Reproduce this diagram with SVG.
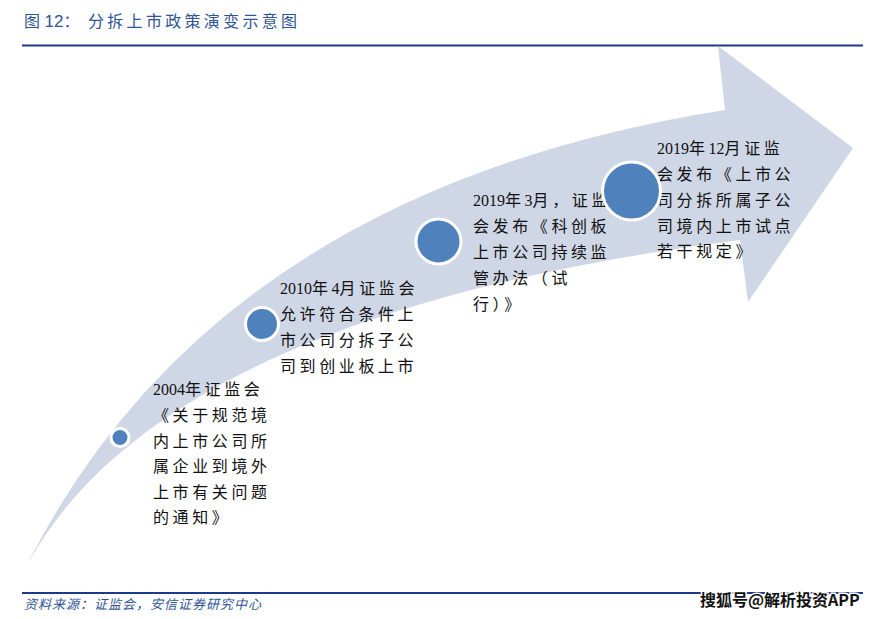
<svg xmlns="http://www.w3.org/2000/svg" width="884" height="619" viewBox="0 0 884 619">
<style>
.title{font-family:"Liberation Sans","Noto Sans CJK SC",sans-serif;font-size:16px;fill:#2F5496;}
.body{font-family:"Liberation Serif","Noto Sans CJK SC",serif;font-size:16px;fill:#111;letter-spacing:3.6px;}
.num{letter-spacing:0px;}
.src{font-family:"Noto Sans CJK SC",sans-serif;font-size:13px;fill:#2F5496;font-style:italic;letter-spacing:1px;}
.dot{fill:#4F81BD;stroke:#fff;stroke-width:3;}
.wm{font-family:"Noto Sans CJK SC",sans-serif;font-size:16px;font-weight:bold;fill:#111;stroke:#fff;stroke-width:3;paint-order:stroke;}
</style>
<rect width="884" height="619" fill="#fff"/>
<g id="header">
<text class="title" x="24" y="27">图 <tspan font-size="17">12</tspan>：<tspan x="88" letter-spacing="3.3">分拆上市政策演变示意图</tspan></text>
<line x1="22" y1="45.5" x2="863" y2="45.5" stroke="#1B3A8C" stroke-width="2"/>
</g>
<g id="arrow">
<path d="M30 559 Q220 190 725 110 L718 46 L853 148 L748 302 L740 240 C350 290 120 400 30 560 Z" fill="#CFD7E6"/>
</g>
<g id="connectors"></g>
<g id="node1">
<text class="body" x="153" y="395"><tspan class="num">2004</tspan>年证监会</text>
<text class="body" x="153" y="421">《关于规范境</text>
<text class="body" x="153" y="446.5">内上市公司所</text>
<text class="body" x="153" y="472">属企业到境外</text>
<text class="body" x="153" y="497.5">上市有关问题</text>
<text class="body" x="153" y="523">的通知》</text>
<circle class="dot" cx="120" cy="437.5" r="9"/>
</g>
<g id="node2">
<text class="body" x="280" y="294"><tspan class="num">2010</tspan>年<tspan class="num">4</tspan>月证监会</text>
<text class="body" x="280" y="320">允许符合条件上</text>
<text class="body" x="280" y="346">市公司分拆子公</text>
<text class="body" x="280" y="372">司到创业板上市</text>
<circle class="dot" cx="262" cy="324" r="16.5"/>
</g>
<g id="node3">
<text class="body" x="473" y="206"><tspan class="num">2019</tspan>年<tspan class="num">3</tspan>月，证监</text>
<text class="body" x="473" y="232">会发布《科创板</text>
<text class="body" x="473" y="258">上市公司持续监</text>
<text class="body" x="473" y="284">管办法（试</text>
<text class="body" x="473" y="310">行）》</text>
<circle class="dot" cx="438.5" cy="241.5" r="22.5"/>
</g>
<g id="node4">
<text class="body" x="657" y="154"><tspan class="num">2019</tspan>年<tspan class="num">12</tspan>月证监</text>
<text class="body" x="657" y="180">会发布《上市公</text>
<text class="body" x="657" y="206">司分拆所属子公</text>
<text class="body" x="657" y="232">司境内上市试点</text>
<text class="body" x="657" y="257">若干规定》</text>
<circle class="dot" cx="631.5" cy="191" r="29" stroke-width="3.5"/>
</g>
<g id="footer">
<line x1="22" y1="593" x2="863" y2="593" stroke="#1B3A8C" stroke-width="2"/>
<text class="src" x="24" y="609">资料来源：证监会，安信证券研究中心</text>
<text class="wm" x="700" y="606">搜狐号@解析投资APP</text>
</g>
</svg>
